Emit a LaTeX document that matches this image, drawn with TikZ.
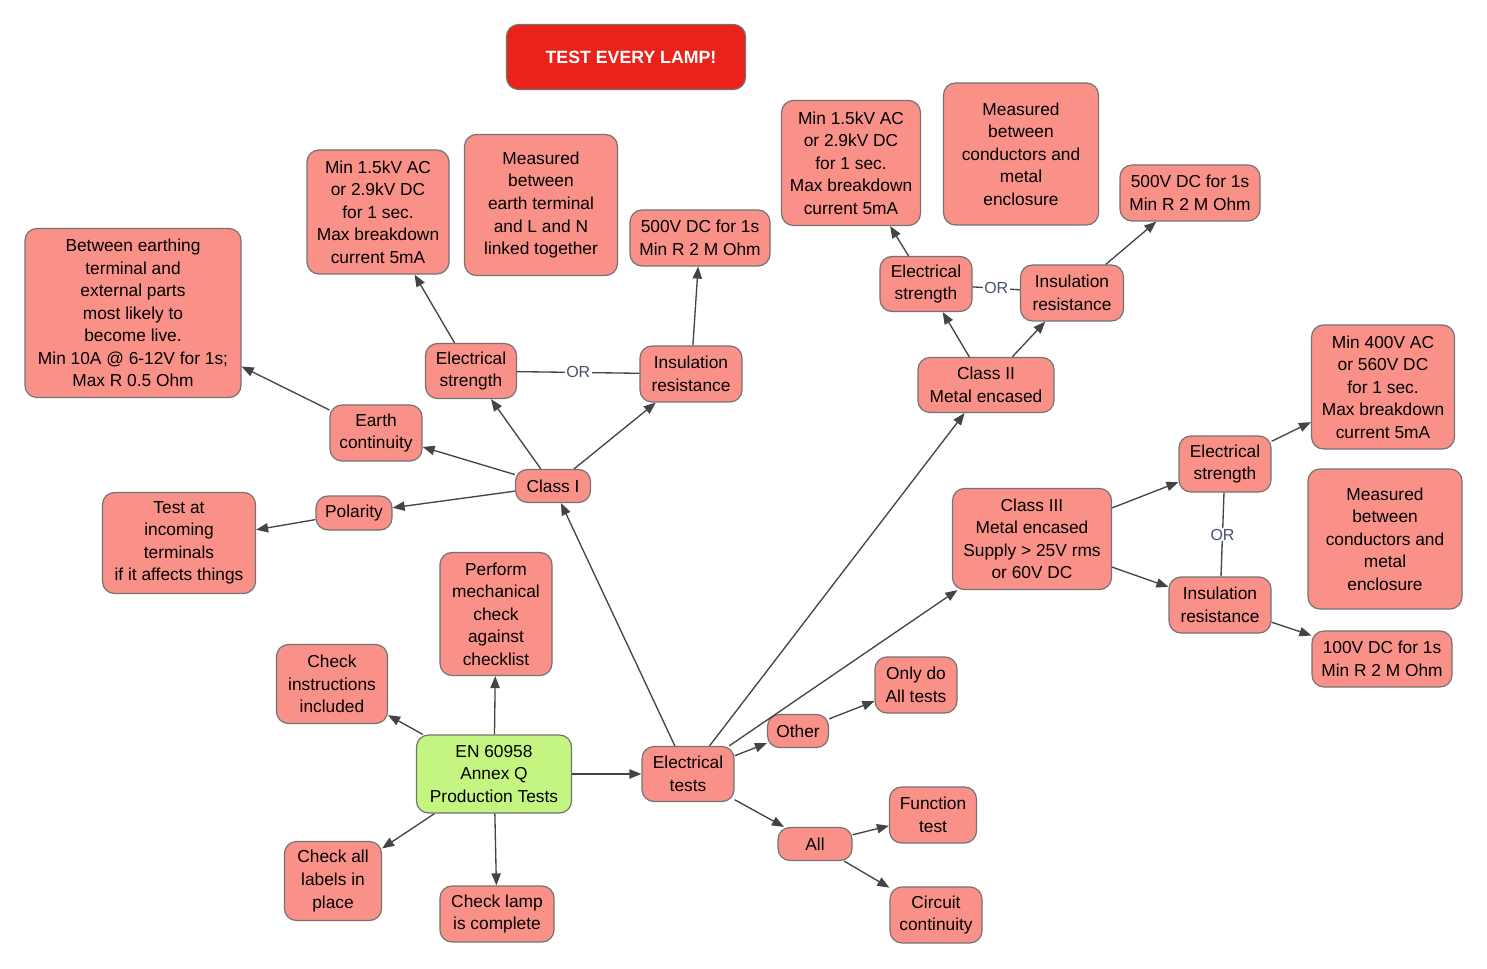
\documentclass[tikz,border=0pt]{standalone}
\usepackage{fontspec}
\setmainfont{Liberation Sans}
\usetikzlibrary{arrows.meta}
\definecolor{salmon}{RGB}{250,145,137}
\definecolor{lgreen}{RGB}{196,245,128}
\definecolor{tred}{RGB}{234,35,26}
\definecolor{boxline}{RGB}{115,115,115}
\definecolor{linec}{RGB}{68,68,68}
\definecolor{orc}{RGB}{70,80,105}
\begin{document}
\begin{tikzpicture}[x=0.75pt,y=-0.75pt,
  every node/.style={font=\fontsize{13}{16.9}\selectfont},
  box/.style={draw=boxline, fill=salmon, rounded corners=9pt, align=center, inner sep=0pt, line width=0.9pt},
  sz/.style 2 args={minimum width={#1*0.75pt}, minimum height={#2*0.75pt}},
  arr/.style={draw=linec, line width=1pt, -{Triangle[length=9pt,width=7pt]}},
  plain/.style={draw=linec, line width=1pt},
  orlab/.style={fill=white, text=orc, inner sep=1pt, font=\fontsize{12}{14}\selectfont}]
\useasboundingbox (0,0) rectangle (1487,969);

% title
\node[box, fill=tred, sz={239}{65}, text=white, font=\fontsize{13.3}{16}\selectfont\bfseries] (title) at (626,57) {\hspace*{7.5pt}TEST EVERY LAMP!};

% root and first level
\node[box, fill=lgreen, sz={155}{78}] (root) at (494,774) {EN 60958\\Annex Q\\Production Tests};
\node[box, sz={92}{55}] (et) at (688,774) {Electrical\\tests};
\node[box, sz={112}{123}] (mech) at (496,614) {Perform\\mechanical\\check\\against\\checklist};
\node[box, sz={111}{79}] (instr) at (332,684) {Check\\instructions\\included};
\node[box, sz={97}{79}] (labels) at (333,881) {Check all\\labels in\\place};
\node[box, sz={114}{56}] (complete) at (497,914) {Check lamp\\is complete};

% other / all
\node[box, sz={61}{33}] (other) at (798,731) {Other};
\node[box, sz={82}{56}] (onlyall) at (916,685) {Only do\\All tests};
\node[box, sz={74}{33}] (all) at (815,844) {All};
\node[box, sz={87}{56}] (func) at (933,815) {Function\\test};
\node[box, sz={92}{56}] (circ) at (936,915) {Circuit\\continuity};

% Class I
\node[box, sz={75}{33}] (c1) at (553,486) {Class I};
\node[box, sz={92}{56}] (earth) at (376,433) {Earth\\continuity};
\node[box, sz={76}{34}] (pol) at (354,513) {Polarity};
\node[box, sz={153}{101}] (incoming) at (179,543) {Test at\\incoming\\terminals\\if it affects things};
\node[box, sz={216}{169}] (between) at (133,313) {Between earthing\\terminal and\\external parts\\most likely to\\become live.\\Min 10A @ 6-12V for 1s;\\Max R 0.5 Ohm};
\node[box, sz={91}{55}] (es1) at (471,371) {Electrical\\strength};
\node[box, sz={102}{56}] (ir1) at (691,374) {Insulation\\resistance};
\node[box, sz={142}{124}] (min1) at (378,212) {Min 1.5kV AC\\or 2.9kV DC\\for 1 sec.\\Max breakdown\\current 5mA};
\node[box, sz={153}{141}] (meas1) at (541,205) {Measured\\between\\earth terminal\\and L and N\\linked together};
\node[box, sz={140}{56}] (r1) at (700,238) {500V DC for 1s\\Min R 2 M Ohm};

% Class II
\node[box, sz={136}{55}] (c2) at (986,385) {Class II\\Metal encased};
\node[box, sz={92}{55}] (es2) at (926,284) {Electrical\\strength};
\node[box, sz={103}{56}] (ir2) at (1072,293) {Insulation\\resistance};
\node[box, sz={139}{125}] (min2) at (851,163) {Min 1.5kV AC\\or 2.9kV DC\\for 1 sec.\\Max breakdown\\current 5mA};
\node[box, sz={155}{142}] (meas2) at (1021,154) {Measured\\between\\conductors and\\metal\\enclosure};
\node[box, sz={140}{56}] (r2) at (1190,193) {500V DC for 1s\\Min R 2 M Ohm};

% Class III
\node[box, sz={159}{101}] (c3) at (1032,539) {Class III\\Metal encased\\Supply > 25V rms\\or 60V DC};
\node[box, sz={92}{56}] (es3) at (1225,464) {Electrical\\strength};
\node[box, sz={102}{56}] (ir3) at (1220,605) {Insulation\\resistance};
\node[box, sz={143}{124}] (min3) at (1383,387) {Min 400V AC\\or 560V DC\\for 1 sec.\\Max breakdown\\current 5mA};
\node[box, sz={154}{140}] (meas3) at (1385,539) {Measured\\between\\conductors and\\metal\\enclosure};
\node[box, sz={140}{56}] (r3) at (1382,659) {100V DC for 1s\\Min R 2 M Ohm};

% connectors
\draw[arr] (root) -- (mech);
\draw[arr] (root) -- (instr);
\draw[arr] (root) -- (labels);
\draw[arr] (root) -- (complete);
\draw[arr] (root) -- (et);
\draw[arr] (et) -- (c1);
\draw[arr] (et) -- (c2);
\draw[arr] (et) -- (c3);
\draw[arr] (et) -- (other);
\draw[arr] (et) -- (all);
\draw[arr] (other) -- (onlyall);
\draw[arr] (all) -- (func);
\draw[arr] (all) -- (circ);

\draw[arr] (c1) -- (earth);
\draw[arr] (c1) -- (pol);
\draw[arr] (c1) -- (es1);
\draw[arr] (c1) -- (ir1);
\draw[arr] (pol) -- (incoming);
\draw[arr] (earth) -- (between);
\draw[arr] (es1) -- (min1);
\draw[arr] (ir1) -- (r1);
\draw[plain] (es1) -- node[orlab] (or1) {OR} (ir1);

\draw[arr] (c2) -- (es2);
\draw[arr] (c2) -- (ir2);
\draw[arr] (es2) -- (min2);
\draw[arr] (ir2) -- (r2);
\draw[plain] (es2) -- node[orlab] (or2) {OR} (ir2);

\draw[arr] (c3) -- (es3);
\draw[arr] (c3) -- (ir3);
\draw[arr] (es3) -- (min3);
\draw[arr] (ir3) -- (r3);
\draw[plain] (es3) -- node[orlab] (or3) {OR} (ir3);
\end{tikzpicture}
\end{document}
